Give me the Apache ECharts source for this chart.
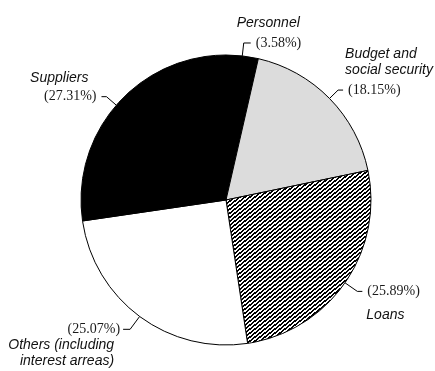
<!DOCTYPE html>
<html>
<head>
<meta charset="utf-8">
<script src="https://cdn.jsdelivr.net/npm/echarts@6/dist/echarts.min.js"></script>
<style>
  html, body { margin: 0; padding: 0; background: #ffffff; }
  #chart { width: 435px; height: 371px; }
</style>
</head>
<body>
<div id="chart"></div>
<script>
// Slice names (line breaks as printed) and their shares in percent, clockwise from 12 o'clock
const categories = [
  'Personnel',
  'Budget and\nsocial security',
  'Loans',
  'Others (including\ninterest arreas)',
  'Suppliers'
];
const shares = [3.58, 18.15, 25.89, 25.07, 27.31];

// Fill of each slice ('hatch' = diagonal line pattern)
const fills = ['#000000', '#dcdcdc', 'hatch', '#ffffff', '#000000'];

// Label placement: name above/below the percentage, horizontal offset of the
// name against the percentage, distance between their centres, leader lengths
const labelSpecs = [
  { above: true,  shift: -19, gap: 20, len: 13, len2: 7, dist: 5 },
  { above: true,  shift: -3,  gap: 20, len: 12, len2: 5, dist: 5 },
  { above: false, shift: -1,  gap: 24, len: 15, len2: 5, dist: 5 },
  { above: false, shift: -6,  gap: 16, len: 16, len2: 7, dist: 3 },
  { above: true,  shift: -8,  gap: 19, len: 13, len2: 5, dist: 5 }
];

const NAME_LH = 16;
const nameFont = { fontFamily: 'Liberation Sans', fontStyle: 'italic', fontSize: 14, color: '#111111' };
const pctFont = { fontFamily: 'Liberation Serif', fontSize: 14, color: '#1a1a1a' };

// Crisp "////" hatch tile, one pixel at a time
function hatchPattern() {
  const w = 5, h = 4;
  const c = document.createElement('canvas');
  c.width = w; c.height = h;
  const g = c.getContext('2d');
  g.fillStyle = '#ffffff';
  g.fillRect(0, 0, w, h);
  g.fillStyle = '#000000';
  for (let y = 0; y < h; y++) {
    for (let x = 0; x < w; x++) {
      const phase = ((x + 0.5) / w + (y + 0.5) / h) % 1;
      if (phase < 0.5) g.fillRect(x, y, 1, 1);
    }
  }
  return c;
}

const total = shares.reduce((a, b) => a + b, 0);

function buildLabel(i) {
  // side of the pie the label lands on, from the slice's middle angle
  const before = shares.slice(0, i).reduce((a, b) => a + b, 0);
  const mid = (before + shares[i] / 2) / total;
  const right = mid < 0.5;

  const s = labelSpecs[i];
  const lines = categories[i].split('\n');
  const pct = '(' + shares[i].toFixed(2) + '%)';
  const names = lines.map(l => '{n|' + l + '}');
  const parts = s.above
    ? names.concat(['{p|' + pct + '}', '{e| }'])
    : ['{e| }', '{p|' + pct + '}'].concat(names);

  const rich = {
    n: Object.assign({ lineHeight: NAME_LH }, nameFont),
    p: Object.assign({ lineHeight: 2 * s.gap - NAME_LH }, pctFont),
    e: { lineHeight: lines.length * NAME_LH, fontSize: 1 }
  };
  let dist = s.dist;
  if (right) {
    if (s.shift < 0) { dist = s.dist + s.shift; rich.p.padding = [0, 0, 0, -s.shift]; }
    else { rich.n.padding = [0, 0, 0, s.shift]; }
  } else {
    if (s.shift < 0) { rich.n.padding = [0, -s.shift, 0, 0]; }
    else { dist = s.dist - s.shift; rich.p.padding = [0, s.shift, 0, 0]; }
  }
  return { formatter: parts.join('\n'), distanceToLabelLine: dist, rich: rich };
}

const pattern = hatchPattern();

const data = categories.map((name, i) => ({
  name: name,
  value: shares[i],
  itemStyle: {
    color: fills[i] === 'hatch' ? { image: pattern, repeat: 'repeat' } : fills[i]
  },
  label: buildLabel(i),
  labelLine: { length: labelSpecs[i].len, length2: labelSpecs[i].len2 }
}));

const chart = echarts.init(document.getElementById('chart'), null, { renderer: 'canvas' });
chart.setOption({
  backgroundColor: '#ffffff',
  animation: false,
  series: [{
    type: 'pie',
    center: [226, 200],
    radius: 145,
    startAngle: 90,
    clockwise: true,
    avoidLabelOverlap: false,
    silent: true,
    itemStyle: { borderColor: '#000000', borderWidth: 1 },
    label: { show: true, position: 'outside' },
    labelLine: {
      show: true,
      smooth: false,
      lineStyle: { color: '#000000', width: 1 }
    },
    emphasis: { disabled: true },
    data: data
  }]
});
</script>
</body>
</html>
